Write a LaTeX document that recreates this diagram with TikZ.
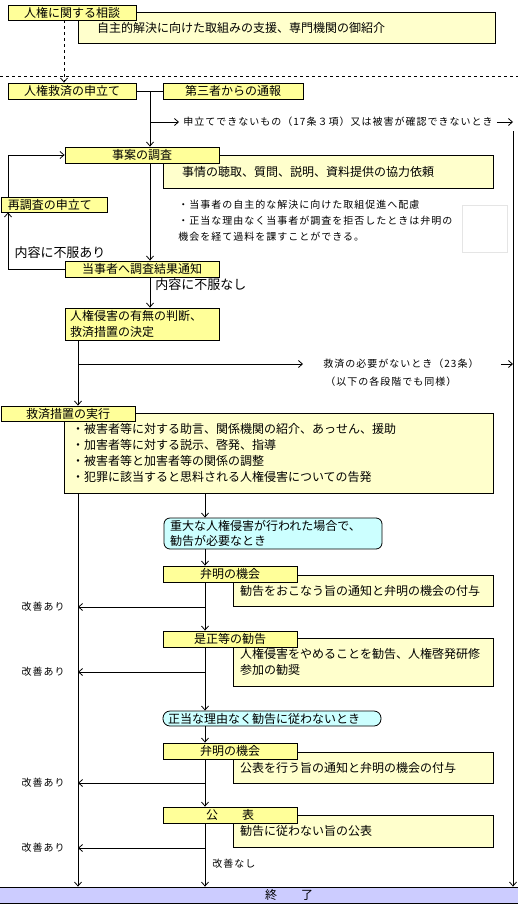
\documentclass[tikz,border=0pt]{standalone}
\usepackage{fontspec}
\setmainfont{Noto Sans CJK JP}
\newfontfamily\jpsmall[LetterSpace=10]{Noto Sans CJK JP}
\usetikzlibrary{arrows.meta}
\definecolor{lblyellow}{HTML}{FFFF99}
\definecolor{descyellow}{HTML}{FFFFCC}
\definecolor{condcyan}{HTML}{CCFFFF}
\definecolor{endblue}{HTML}{CCCCFF}
\begin{document}
\begin{tikzpicture}[x=1pt,y=-1pt,line width=0.8pt,
  >={Straight Barb[length=4pt,width=7pt]},
  lbl/.style={draw,fill=lblyellow,inner sep=0pt,font=\fontsize{12}{15.5}\selectfont},
  desc/.style={draw,fill=descyellow,inner ysep=0pt,align=left,font=\fontsize{12}{15.7}\selectfont},
  cond/.style={draw,fill=condcyan,rounded corners=6pt,inner ysep=0pt,align=left,font=\fontsize{12}{15.5}\selectfont},
  note/.style={inner xsep=4pt,inner ysep=0pt,font=\jpsmall\fontsize{10}{16}\selectfont},
  big/.style={inner sep=0pt,font=\fontsize{13}{15}\selectfont}]
\useasboundingbox (0,0) rectangle (518,913);
% consultation
\node[desc,text width=379pt,inner xsep=19pt,minimum height=31pt] (soudandesc) at (286.5,27.5) {自主的解決に向けた取組みの支援、専門機関の御紹介};
\node[lbl,minimum width=128pt,minimum height=15pt] (soudan) at (72,12.5) {人権に関する相談};
\draw[dashed] (0,76) -- (518,76);
\node[lbl,minimum width=128pt,minimum height=16pt] (moushitate) at (72,91) {人権救済の申立て};
\node[lbl,minimum width=140pt,minimum height=16pt] (tsuhou) at (233,91) {第三者からの通報};
\draw[dashed,->] ([xshift=-8pt]soudan.south) -- ([xshift=-8pt]moushitate.north);
\draw (moushitate.east) -- (tsuhou.west);
\coordinate (j1) at (150,91);
\coordinate (j2) at (150,122);
\coordinate (rtop) at (513,131);
\node[note,anchor=west] (fuka) at (179,122) {申立てできないもの（17条３項）又は被害が確認できないとき};
\draw[->] (j2) -- (fuka.west);
\draw[->] (fuka.east) -- (fuka.east -| rtop);
% investigation
\node[desc,text width=292pt,inner xsep=19pt,minimum height=33pt] (chousadesc) at (328,171.5) {事情の聴取、質問、説明、資料提供の協力依頼};
\node[lbl,minimum width=154pt,minimum height=16pt] (chousa) at (142,155) {事案の調査};
\draw[->] (j1) -- (chousa.north -| j1);
\node[note,anchor=west,align=left,inner xsep=0pt] (hairyo) at (178,221) {・当事者の自主的な解決に向けた取組促進へ配慮\\・正当な理由なく当事者が調査を拒否したときは弁明の\\機会を経て過料を課すことができる。};
\draw[black!10,line width=0.6pt] (462,205) rectangle (507,252);
\node[lbl,text width=92pt,inner xsep=7pt,align=left,minimum height=15pt] (saichousa) at (54,204.5) {再調査の申立て};
\node[lbl,minimum width=154pt,minimum height=16pt] (tsuchi) at (142,269) {当事者へ調査結果通知};
\draw[->] (chousa.south -| j1) -- (tsuchi.north -| j1);
\coordinate (lb) at (8,269);
\coordinate (lt) at (8,155);
\draw[->] (tsuchi.west) -- (lb) -- (lb |- saichousa.south);
\draw[->] (lb |- saichousa.north) -- (lt) -- (chousa.west);
\node[big] (fufukuari) at (60,253) {内容に不服あり};
\node[lbl,text width=144pt,inner xsep=5pt,align=left,minimum height=32pt] (handan) at (142,324) {人権侵害の有無の判断、\\救済措置の決定};
\draw[->] (tsuchi.south -| j1) -- (handan.north -| j1);
\node[big,anchor=west] (fufukunashi) at (155,285) {内容に不服なし};
% relief
\coordinate (trunk) at (78,364);
\coordinate (mid) at (205,500);
\node[note,anchor=west] (hitsuyou) at (319,364) {救済の必要がないとき（23条）};
\node[note,anchor=west] (douyou) at (321,382) {（以下の各段階でも同様）};
\draw[->] (trunk) -- ([xshift=-16pt]hitsuyou.west);
\draw[->] ([xshift=18pt]hitsuyou.east) -- (hitsuyou.east -| rtop);
\node[desc,text width=413pt,inner xsep=8pt,minimum height=80pt] (jikkoudesc) at (278.5,453) {・被害者等に対する助言、関係機関の紹介、あっせん、援助\\・加害者等に対する説示、啓発、指導\\・被害者等と加害者等の関係の調整\\・犯罪に該当すると思料される人権侵害についての告発};
\node[lbl,minimum width=134pt,minimum height=15pt] (jikkou) at (68,413.5) {救済措置の実行};
\draw[->] (handan.south -| trunk) -- (jikkou.north -| trunk);
\node[cond,text width=206pt,inner xsep=6pt,minimum height=31pt] (juudai) at (273,533.5) {重大な人権侵害が行われた場合で、\\勧告が必要なとき};
\draw[->] (jikkoudesc.south -| mid) -- (juudai.north -| mid);
% recommendation
\node[desc,text width=246pt,inner xsep=7pt,minimum height=31pt] (benmei1desc) at (363,590.5) {勧告をおこなう旨の通知と弁明の機会の付与};
\node[lbl,minimum width=134pt,minimum height=16pt] (benmei1) at (230,574) {弁明の機会};
\draw[->] (juudai.south -| mid) -- (benmei1.north -| mid);
\node[desc,text width=246pt,inner xsep=7pt,minimum height=48pt] (zeseidesc) at (363,662) {人権侵害をやめることを勧告、人権啓発研修\\参加の勧奨};
\node[lbl,minimum width=134pt,minimum height=16pt] (zesei) at (230,639) {是正等の勧告};
\draw[->] (benmei1.south -| mid) -- (zesei.north -| mid);
\coordinate (k1) at (205,607);
\draw[->] (k1) -- (k1 -| trunk);
\node[note] (kaizen1) at (43,607) {改善あり};
\node[cond,rounded corners=7pt,text width=208pt,inner xsep=5pt,minimum height=15pt] (shitagawanai) at (272,718.5) {正当な理由なく勧告に従わないとき};
\draw[->] (zesei.south -| mid) -- (shitagawanai.north -| mid);
\coordinate (k2) at (205,672);
\draw[->] (k2) -- (k2 -| trunk);
\node[note] (kaizen2) at (43,672) {改善あり};
% publication
\node[desc,text width=246pt,inner xsep=7pt,minimum height=31pt] (benmei2desc) at (363,767.5) {公表を行う旨の通知と弁明の機会の付与};
\node[lbl,minimum width=134pt,minimum height=16pt] (benmei2) at (230,751) {弁明の機会};
\draw[->] (shitagawanai.south -| mid) -- (benmei2.north -| mid);
\coordinate (k3) at (205,783);
\draw[->] (k3) -- (k3 -| trunk);
\node[note] (kaizen3) at (43,783) {改善あり};
\node[desc,text width=246pt,inner xsep=7pt,minimum height=32pt] (kouhyoudesc) at (363,831) {勧告に従わない旨の公表};
\node[lbl,minimum width=134pt,minimum height=16pt] (kouhyou) at (230,815) {公　　表};
\draw[->] (benmei2.south -| mid) -- (kouhyou.north -| mid);
\coordinate (k4) at (205,848);
\draw[->] (k4) -- (k4 -| trunk);
\node[note] (kaizen4) at (43,848) {改善あり};
\node[note,anchor=west] (kaizennashi) at (208,864) {改善なし};
% end
\node[draw,fill=endblue,minimum width=520pt,minimum height=16pt,inner sep=0pt,font=\fontsize{12}{15}\selectfont] (endbar) at (259,895) {\hspace*{60pt}終　　了};
\draw[->] (kouhyou.south -| mid) -- (endbar.north -| mid);
\draw[->] (jikkoudesc.south -| trunk) -- (endbar.north -| trunk);
\draw[->] (rtop) -- (endbar.north -| rtop);
\end{tikzpicture}
\end{document}
